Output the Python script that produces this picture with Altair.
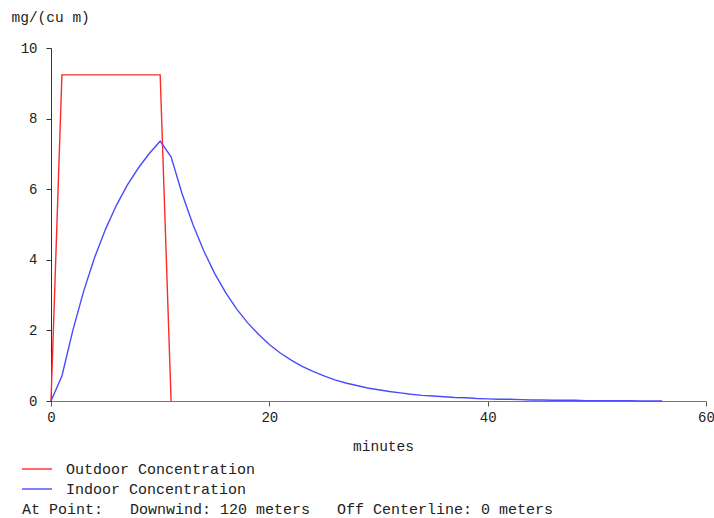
import altair as alt
import pandas as pd

# Data
outdoor_t = [0, 1, 10, 11]
outdoor_c = [0.0, 9.24, 9.24, 0.0]

indoor_t = list(range(0, 57))
indoor_c = [0.0, 0.71, 2.0, 3.12, 4.07, 4.87, 5.55, 6.12, 6.6, 7.01,
            7.36, 6.92, 5.88, 5.0, 4.25, 3.61, 3.07, 2.61, 2.22, 1.89,
            1.60, 1.36, 1.16, 0.98, 0.84, 0.71, 0.60, 0.51, 0.44, 0.37,
            0.32, 0.27, 0.23, 0.19, 0.16, 0.14, 0.12, 0.10, 0.09, 0.07,
            0.06, 0.05, 0.05, 0.04, 0.03, 0.03, 0.02, 0.02, 0.02, 0.01,
            0.01, 0.01, 0.01, 0.01, 0.0, 0.0, 0.0]

series_names = ["Outdoor Concentration", "Indoor Concentration"]
series_colors = ["#ff2a2a", "#4b4bff"]
x_ticks = [0, 20, 40, 60]
y_ticks = [0, 2, 4, 6, 8, 10]
NB = "\u00a0"
footer_text = "At Point:" + NB * 3 + "Downwind: 120 meters" + NB * 3 + "Off Centerline: 0 meters"

FONT = "Liberation Mono"
TXT = "#222222"

df_out = pd.DataFrame({"minutes": outdoor_t, "conc": outdoor_c, "series": series_names[0]})
df_in = pd.DataFrame({"minutes": indoor_t, "conc": indoor_c, "series": series_names[1]})

x_enc = alt.X("minutes:Q",
              scale=alt.Scale(domain=[0, 60], nice=False, zero=False),
              axis=alt.Axis(values=x_ticks, title="minutes", grid=False,
                            domainColor="#777777", tickColor="#555555", tickSize=5,
                            labelFont=FONT, labelFontSize=14, labelColor=TXT,
                            labelPadding=4, labelFlush=False,
                            titleFont=FONT, titleFontSize=14.5, titleFontWeight="normal",
                            titleColor=TXT, titleX=332, titleY=45,
                            titleBaseline="middle", titleAlign="center"))
y_enc = alt.Y("conc:Q",
              scale=alt.Scale(domain=[0, 10], nice=False),
              axis=alt.Axis(values=y_ticks, title="mg/(cu m)", grid=False,
                            domainColor="#333333", tickColor="#333333", tickSize=5,
                            labelFont=FONT, labelFontSize=14, labelColor=TXT,
                            labelPadding=9,
                            titleFont=FONT, titleFontSize=14.5, titleFontWeight="normal",
                            titleColor=TXT, titleAngle=0, titleX=-40, titleY=-31,
                            titleAlign="left", titleBaseline="middle"))

color_scale = alt.Scale(domain=series_names, range=series_colors)

outdoor = alt.Chart(df_out).mark_line(strokeWidth=1.4).encode(
    x=x_enc, y=y_enc,
    color=alt.Color("series:N", scale=color_scale, legend=None))
indoor = alt.Chart(df_in).mark_line(strokeWidth=1.4).encode(
    x="minutes:Q", y="conc:Q",
    color=alt.Color("series:N", scale=color_scale, legend=None))

# Manual legend rows
legend_layers = []
for i, (name, col) in enumerate(zip(series_names, series_colors)):
    yy = 421 + 20 * i
    ld = pd.DataFrame({"label": [name]})
    legend_layers.append(
        alt.Chart(ld).mark_rule(color=col, strokeWidth=1.4).encode(
            x=alt.value(-29), x2=alt.value(1), y=alt.value(yy)))
    legend_layers.append(
        alt.Chart(ld).mark_text(font=FONT, fontSize=15, color=TXT, align="left",
                                baseline="middle").encode(
            x=alt.value(15), y=alt.value(yy), text="label:N"))

footer = alt.Chart(pd.DataFrame({"t": [footer_text]})).mark_text(
    font=FONT, fontSize=15, color=TXT, align="left", baseline="middle").encode(
    x=alt.value(-29), y=alt.value(461), text="t:N")

chart = alt.layer(outdoor, indoor, *legend_layers, footer).properties(
    width=655, height=353,
    autosize=alt.AutoSizeParams(type="none"),
    padding={"left": 51, "top": 48, "right": 8, "bottom": 117},
    background="white",
).configure_view(stroke=None)

chart.save("out.html", embed_options={"renderer": "svg", "actions": False})
